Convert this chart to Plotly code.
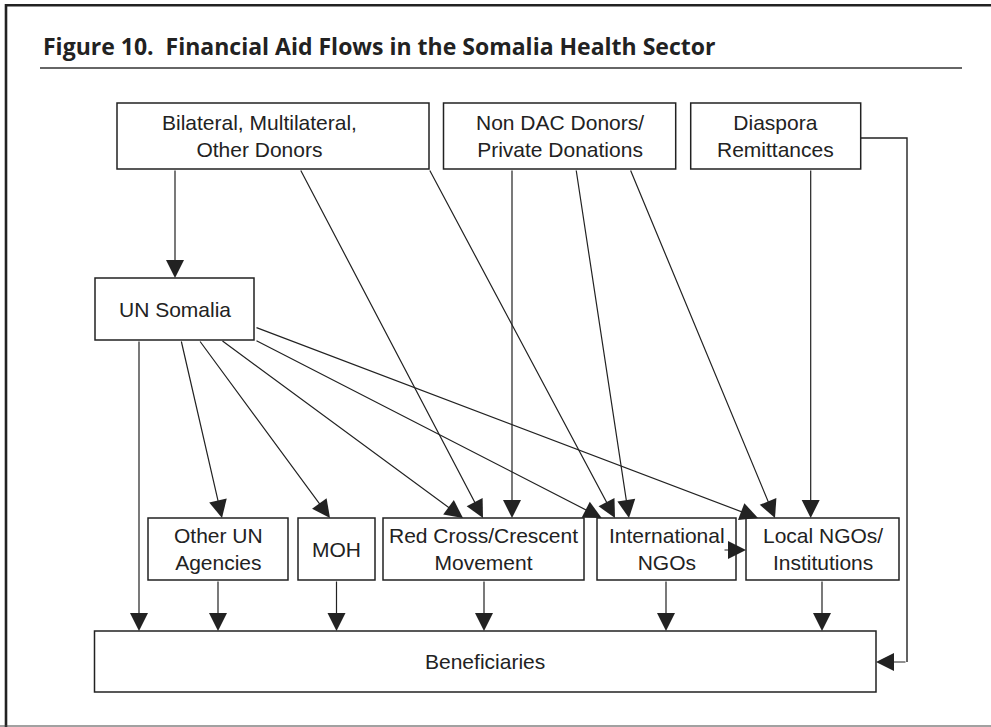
import plotly.graph_objects as go

W, H = 991, 727

title_text = "Figure 10.\u00a0\u00a0Financial Aid Flows in the Somalia Health Sector"

# Diagram nodes (diagram coordinate system = axis units)
node_labels = [
    "Bilateral, Multilateral,<br>Other Donors",
    "Non DAC Donors/<br>Private Donations",
    "Diaspora<br>Remittances",
    "UN Somalia",
    "Other UN<br>Agencies",
    "MOH",
    "Red Cross/Crescent<br>Movement",
    "International<br>NGOs",
    "Local NGOs/<br>Institutions",
    "Beneficiaries",
]
node_x0 = [117, 443.5, 690.7, 95, 148, 298, 383, 597, 746, 94.5]
node_x1 = [429, 675.7, 860.7, 254, 288, 375, 584, 736, 899, 876]
node_y0 = [103, 103, 103, 278, 518, 518, 518, 518, 518, 631]
node_y1 = [169, 169, 169, 340, 580, 580, 580, 580, 580, 692]
label_x = [259, 559.6, 775.7, 174.5, 218, 336.5, 483.5, 666.5, 822.5, 485]

# Flow arrows: tail (x0, y0) -> head (x1, y1)
edge_x0 = [175, 300, 429, 512, 576, 630, 810.7, 139, 181, 199, 221, 255, 255,
           218, 336.5, 484, 666, 822, 723, 907]
edge_y0 = [169, 169, 169, 169, 169, 169, 169, 340, 340, 340, 340, 340, 327,
           580, 580, 580, 580, 580, 550, 662]
edge_x1 = [175, 483, 615, 512, 629, 775, 810.7, 139, 222, 330, 463, 601.7, 758,
           218, 336.5, 484, 666, 822, 746, 876]
edge_y1 = [278, 518, 518, 518, 518, 518, 518, 631, 518, 518, 518, 518, 518,
           631, 631, 631, 631, 631, 550, 662]

# Elbow route from Diaspora Remittances down to Beneficiaries
route_x = [860.7, 907, 907]
route_y = [138, 138, 662]

LINE = "#222222"
TEXT = "#222222"

fig = go.Figure()

fig.add_trace(go.Scatter(x=route_x, y=route_y, mode="lines",
                         line=dict(color=LINE, width=1.4),
                         hoverinfo="skip", showlegend=False))

shapes = []
annotations = []

for x0, x1, y0, y1 in zip(node_x0, node_x1, node_y0, node_y1):
    shapes.append(dict(type="rect", xref="x", yref="y", x0=x0, x1=x1, y0=y0, y1=y1,
                       line=dict(color=LINE, width=1.5), fillcolor="white", layer="above"))

for lab, lx, y0, y1 in zip(node_labels, label_x, node_y0, node_y1):
    annotations.append(dict(xref="x", yref="y", x=lx, y=(y0 + y1) / 2, text=lab,
                            showarrow=False, xanchor="center", yanchor="middle",
                            font=dict(family="Liberation Sans, Arial", size=21, color=TEXT)))

for ax, ay, x, y in zip(edge_x0, edge_y0, edge_x1, edge_y1):
    annotations.append(dict(xref="x", yref="y", axref="x", ayref="y",
                            x=x, y=y, ax=ax, ay=ay, text="", showarrow=True,
                            arrowhead=2, arrowsize=3.0, arrowwidth=1.2,
                            arrowcolor=LINE, standoff=0, startstandoff=0))

# Title
annotations.append(dict(xref="x", yref="y", x=41, y=46, text="<b>" + title_text + "</b>",
                        showarrow=False, xanchor="left", yanchor="middle",
                        font=dict(family="Open Sans", size=23, color="#222222")))

# Frame and title rule
shapes += [
    dict(type="line", xref="x", yref="y", x0=40, x1=962, y0=68, y1=68,
         line=dict(color="#333333", width=1.3)),
    dict(type="line", xref="x", yref="y", x0=6, x1=991, y0=5.2, y1=5.2,
         line=dict(color="#222222", width=2.6)),
    dict(type="line", xref="x", yref="y", x0=6, x1=6, y0=4, y1=727,
         line=dict(color="#222222", width=2.6)),
    dict(type="line", xref="x", yref="y", x0=0, x1=991, y0=726, y1=726,
         line=dict(color="#444444", width=1.2)),
]

fig.update_layout(
    width=W, height=H,
    margin=dict(l=0, r=0, t=0, b=0),
    paper_bgcolor="white", plot_bgcolor="white",
    shapes=shapes, annotations=annotations,
    xaxis=dict(range=[0, W], visible=False, fixedrange=True),
    yaxis=dict(range=[H, 0], visible=False, fixedrange=True),
    showlegend=False,
)

fig.write_html("out.html", config={"displayModeBar": False},
               post_script="document.body.style.margin='0';document.body.style.overflow='hidden';")
